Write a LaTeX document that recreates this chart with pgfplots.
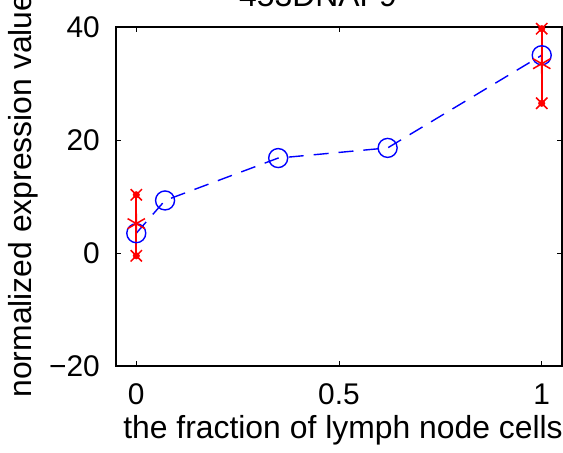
\documentclass[border=0pt]{standalone}
\usepackage{pgfplots}
\pgfplotsset{compat=1.18}
\usepackage{fontspec}
\setmainfont{Liberation Sans}

\begin{document}
\begin{tikzpicture}
\begin{axis}[
	name=ax,
	scale only axis,
	width=446bp, height=339bp,
	xmin=-0.05, xmax=1.05,
	ymin=-20, ymax=40,
	xtick={0,0.5,1}, xticklabels={0,0.5,1},
	ytick={-20,0,20,40}, yticklabels={−20,0,20,40},
	tick align=inside,
	major tick length=5bp,
	tick style={black, line width=0.8bp},
	axis line style={line width=1.2bp},
	font=\fontsize{30}{36}\selectfont,
	xticklabel style={anchor=base, inner sep=0pt, yshift=-39bp},
	yticklabel style={anchor=east, inner sep=0pt, xshift=-16bp},
	xlabel={the fraction of lymph node cells},
	xlabel style={font=\fontsize{32}{38}\selectfont, at={(axis description cs:0.5,0)}, anchor=base, yshift=-73bp, xshift=4bp, inner sep=0pt},
	ylabel={normalized expression value},
	ylabel style={font=\fontsize{32}{38}\selectfont, at={(axis description cs:0,0.5)}, anchor=center, yshift=93bp, xshift=1bp, inner sep=0pt},
	clip=false,
]
% mean profile
\addplot[blue, line width=1.4bp, dash pattern=on 15bp off 10bp,
	mark=o, mark size=9.5bp, mark options={solid}]
	coordinates {(0,3.5) (0.071,9.3) (0.35,16.8) (0.62,18.6) (1,35.0)};
% replicate spread
\addplot[red, line width=1.7bp] coordinates {(0,-0.5) (0,10.3)};
\addplot[red, line width=1.7bp] coordinates {(1,26.5) (1,39.7)};
\addplot[red, only marks, mark=x, mark size=8bp, mark options={line width=1.5bp}]
	coordinates {(0,-0.5) (0,10.3) (1,26.5) (1,39.7)};
\addplot[red, only marks, mark=*, mark size=3.3bp]
	coordinates {(0,-0.5) (0,10.3) (1,26.5) (1,39.7)};
\addplot[red, only marks, mark=asterisk, mark size=10bp, mark options={line width=1.5bp}]
	coordinates {(0,5.2) (1,33.5)};
\end{axis}
\node[font=\fontsize{32}{38}\selectfont, anchor=base, inner sep=0pt]
	at ([xshift=-21bp, yshift=20bp]ax.north) {453DNAF9};
\pgfresetboundingbox
\useasboundingbox ([shift={(-116bp,-87bp)}]ax.south west) rectangle ([shift={(1bp,27bp)}]ax.north east);
\end{tikzpicture}
\end{document}
